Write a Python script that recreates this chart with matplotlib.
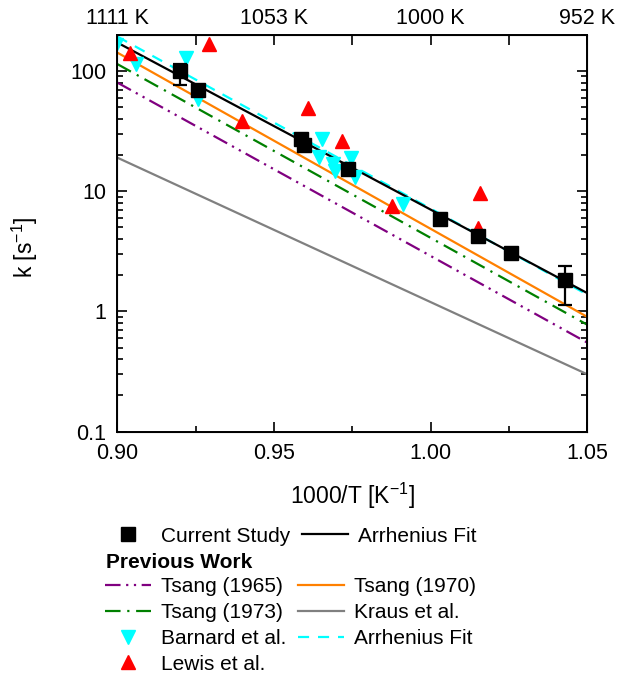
import numpy as np
import matplotlib
matplotlib.use("Agg")
import matplotlib.pyplot as plt
from matplotlib.ticker import FixedLocator, NullFormatter, LogLocator

plt.rcParams['font.family'] = ['Liberation Sans', 'DejaVu Sans']
plt.rcParams['mathtext.fontset'] = 'custom'
plt.rcParams['mathtext.rm'] = 'Liberation Sans'
plt.rcParams['mathtext.it'] = 'Liberation Sans:italic'
plt.rcParams['mathtext.bf'] = 'Liberation Sans:bold'

# ---------------- data ----------------
# Current study (1000/T, k)
cs_x = [0.9200, 0.9259, 0.9585, 0.9597, 0.9737, 1.0030, 1.0152, 1.0257, 1.0429]
cs_k = [100, 70, 27.3, 24.2, 15.4, 5.89, 4.27, 3.04, 1.84]
# error bars (subset of points)
err_x = [0.9200, 1.0429]
err_k = [100, 1.84]
err_lo = [24, 0.70]
err_hi = [14, 0.53]

# Barnard et al.
barnard_x = [0.8995, 0.9060, 0.9219, 0.9259, 0.9654, 0.9643, 0.9689, 0.9695, 0.9745, 0.9759, 0.9913]
barnard_k = [165, 114, 127, 58, 27.0, 19.3, 16.7, 14.7, 19.0, 13.0, 7.75]

# Lewis et al.
lewis_x = [0.9040, 0.9293, 0.9397, 0.9608, 0.9716, 0.9876, 1.0158, 1.0150]
lewis_k = [142, 167, 38.3, 48.9, 26.1, 7.6, 9.7, 4.95]

# Fitted lines: values at the two ends of the x range
fit_x = [0.90, 1.05]
arr_fit_k = [172, 1.42]
barnard_fit_k = [193, 1.38]
tsang1965_k = [80, 0.55]
tsang1970_k = [142, 0.90]
tsang1973_k = [114, 0.775]
kraus_k = [19, 0.30]

x_ticks = [0.90, 0.95, 1.00, 1.05]
x_tick_labels = ['0.90', '0.95', '1.00', '1.05']
top_tick_labels = ['1111 K', '1053 K', '1000 K', '952 K']
y_ticks = [0.1, 1, 10, 100]
y_tick_labels = ['0.1', '1', '10', '100']

# ---------------- figure ----------------
W, H = 617, 676
fig = plt.figure(figsize=(W / 100, H / 100), dpi=100)
ax = fig.add_axes([117.3 / W, 1 - 431.7 / H, (587.3 - 117.3) / W, (431.7 - 34.7) / H])

purple = '#800080'
green = '#008000'
orange = '#ff8000'
gray = '#808080'
cyan = '#00ffff'
lw = 1.6

l65, = ax.plot(fit_x, tsang1965_k, color=purple, lw=lw, dashes=(7, 2.5, 1, 2.5, 1, 2.5))
l73, = ax.plot(fit_x, tsang1973_k, color=green, lw=lw, dashes=(7, 3, 1, 3))
l70, = ax.plot(fit_x, tsang1970_k, color=orange, lw=lw)
lkr, = ax.plot(fit_x, kraus_k, color=gray, lw=lw)
lbf, = ax.plot(fit_x, barnard_fit_k, color=cyan, lw=lw, dashes=(5, 4))
laf, = ax.plot(fit_x, arr_fit_k, color='black', lw=lw)

mb, = ax.plot(barnard_x, barnard_k, 'v', color=cyan, ms=9.5, mec=cyan, ls='none')
ml, = ax.plot(lewis_x, lewis_k, '^', color='red', ms=9.5, mec='red', ls='none')
ax.errorbar(err_x, err_k, yerr=[err_lo, err_hi], fmt='none', ecolor='black',
            elinewidth=1.6, capsize=5, capthick=1.6, zorder=4)
mc, = ax.plot(cs_x, cs_k, 's', color='black', ms=9.5, ls='none', zorder=5)

ax.set_yscale('log')
ax.set_xlim(0.90, 1.05)
ax.set_ylim(0.1, 200)

ax.set_xticks(x_ticks)
ax.set_xticklabels(x_tick_labels)
ax.xaxis.set_minor_locator(FixedLocator([0.925, 0.975, 1.025]))
ax.set_yticks(y_ticks)
ax.set_yticklabels(y_tick_labels)
ax.yaxis.set_minor_locator(LogLocator(base=10, subs=np.arange(2, 10)))
ax.yaxis.set_minor_formatter(NullFormatter())

ax.tick_params(which='both', direction='in', top=False, right=True, labelsize=15.5, width=1.2)
ax.tick_params(which='major', length=7, pad=8)
ax.tick_params(which='minor', length=4)
for s in ax.spines.values():
    s.set_linewidth(1.4)

ax.set_xlabel('1000/T [K$^{-1}$]', fontsize=16.5, labelpad=12)
ax.set_ylabel('k [s$^{-1}$]', fontsize=16.5)
ax.yaxis.set_label_coords(-(117.3 - 40) / 470, 1 - (247 - 34.7) / 397)

axt = ax.twiny()
axt.set_xlim(ax.get_xlim())
axt.set_xticks(x_ticks)
axt.set_xticklabels(top_tick_labels)
axt.xaxis.set_minor_locator(FixedLocator([0.925, 0.975, 1.025]))
axt.tick_params(which='both', direction='in', labelsize=15.5, width=1.2, pad=4)
axt.tick_params(which='major', length=7)
axt.tick_params(which='minor', length=7)

# ---------------- legends ----------------
leg_kw = dict(frameon=False, fontsize=15, handlelength=2.2, handletextpad=0.5,
              columnspacing=0.55, borderpad=0, borderaxespad=0, labelspacing=0.32)
leg1 = fig.legend([mc, laf], ['Current Study', 'Arrhenius Fit'], ncol=2,
                  loc='center left', bbox_to_anchor=(105 / W, 1 - 536 / H), **leg_kw)
fig.text(106 / W, 1 - 563 / H, 'Previous Work', fontsize=15, fontweight='bold',
         ha='left', va='center')
leg2 = fig.legend([l65, l73, mb, ml, l70, lkr, lbf],
                  ['Tsang (1965)', 'Tsang (1973)', 'Barnard et al.', 'Lewis et al.',
                   'Tsang (1970)', 'Kraus et al.', 'Arrhenius Fit'],
                  ncol=2, loc='center left',
                  bbox_to_anchor=(105 / W, 1 - 625.5 / H), **leg_kw)

fig.savefig('out.png', dpi=100)
